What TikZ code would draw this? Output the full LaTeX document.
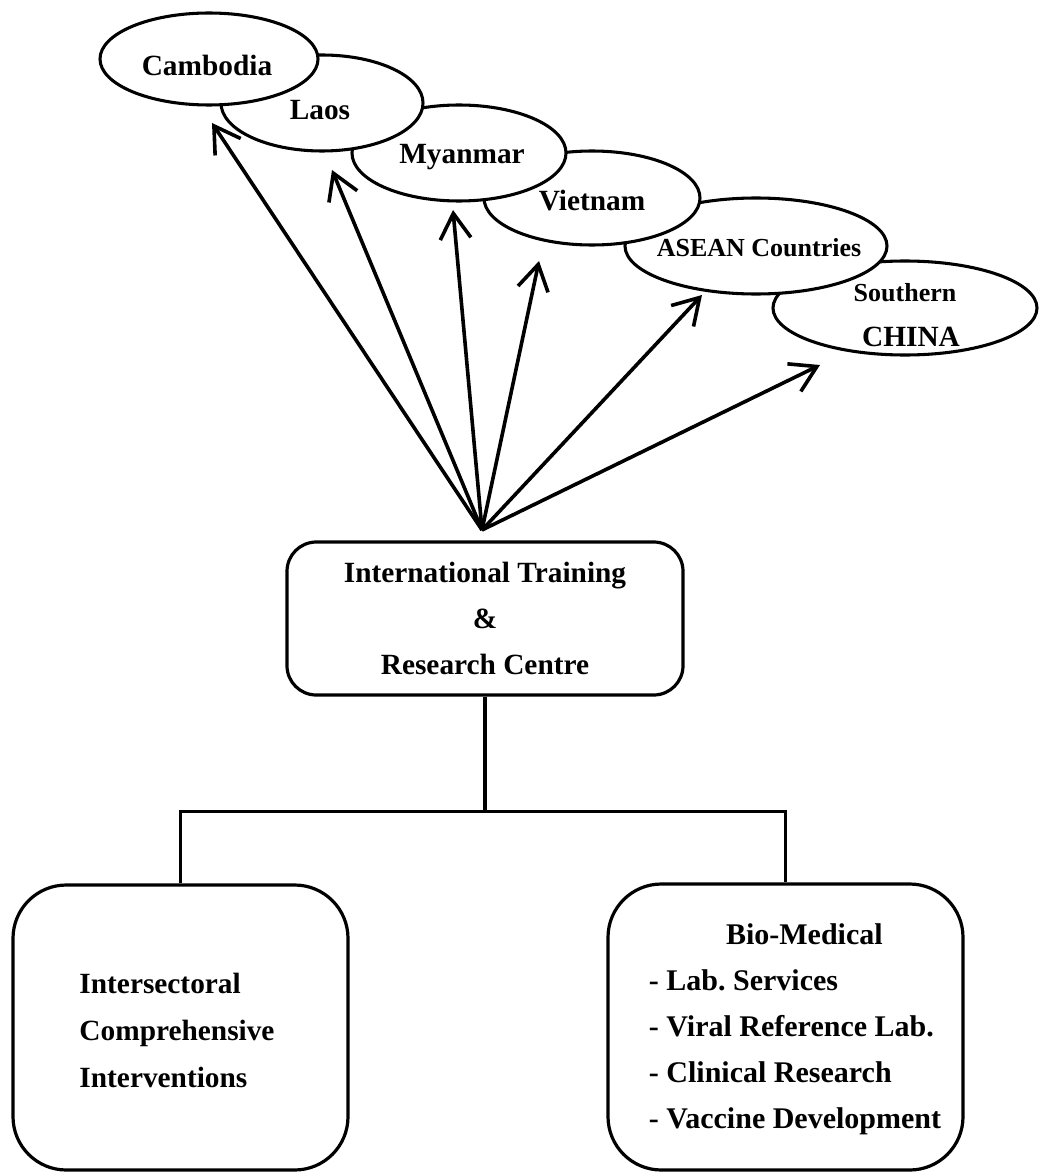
\documentclass[tikz,border=0pt]{standalone}
\usepackage{fontspec}
\setmainfont{Liberation Serif}
\usetikzlibrary{arrows.meta,shapes.geometric}
\frenchspacing
\begin{document}
\begin{tikzpicture}[x=0.75pt,y=-0.75pt,
  ctry/.style={ellipse,draw,line width=2.3pt,fill=white,inner sep=0pt},
  lbl/.style={font=\fontsize{22}{26}\selectfont\bfseries,inner sep=0pt},
  slbl/.style={font=\fontsize{19.5}{24}\selectfont\bfseries,inner sep=0pt},
  arr/.style={line width=2.7pt,-{Straight Barb[length=19pt,width=23pt]}},
  box/.style={draw,line width=2.4pt,inner sep=0pt},
  conn/.style={line width=2.4pt}]
\useasboundingbox (0,0) rectangle (1040,1173);

% country ellipses, back to front
\node[ctry,minimum width=198pt,minimum height=70.5pt] (china) at (905,308) {};
\node[slbl] (chinaA) at (905,293) {Southern};
\node[lbl] (chinaB) at (911,337) {CHINA};
\node[ctry,minimum width=196.5pt,minimum height=72pt] (asean) at (756,246) {};
\node[slbl] (aseanT) at (759,248) {ASEAN Countries};
\node[ctry,minimum width=162pt,minimum height=70.5pt] (viet) at (592,198) {};
\node[lbl] (vietT) at (592,201) {Vietnam};
\node[ctry,minimum width=160.5pt,minimum height=72pt] (myan) at (459,153) {};
\node[lbl] (myanT) at (462,157) {Myanmar};
\node[ctry,minimum width=151.5pt,minimum height=72pt] (laos) at (322,103) {};
\node[lbl] (laosT) at (320,110) {Laos};
\node[ctry,minimum width=163.5pt,minimum height=69pt] (cam) at (209,59) {};
\node[lbl] (camT) at (207,65) {Cambodia};

% central box
\node[box,rounded corners=22pt,minimum width=297pt,minimum height=114.75pt,
      font=\fontsize{22}{34.5}\selectfont\bfseries,align=center] (itrc) at (485,618.5)
  {International Training\\\&\\Research Centre};

% arrows
\coordinate (hub) at (482,530);
\coordinate (tcam) at (212,123);
\coordinate (tlaos) at (332,170);
\coordinate (tmyan) at (453,210);
\coordinate (tviet) at (539,261);
\coordinate (tasean) at (702,295);
\coordinate (tchina) at (820,365);
\foreach \t in {tcam,tlaos,tmyan,tviet,tasean,tchina}
  \draw[arr] (hub) -- (\t);

% lower boxes
\node[box,rounded corners=40pt,minimum width=251.25pt,minimum height=213.75pt] (lbox) at (180.5,1027.5) {};
\node[lbl,align=left,font=\fontsize{22}{35.25}\selectfont\bfseries] (ltext) at (177,1030)
  {Intersectoral\\Comprehensive\\Interventions};
\node[box,rounded corners=40pt,minimum width=266.25pt,minimum height=214.5pt] (rbox) at (785.5,1027) {};
\node[lbl,font=\fontsize{22.5}{34.5}\selectfont\bfseries] (rtext) at (795,1027)
  {\begin{tabular}{@{}l@{}}
   \multicolumn{1}{@{}c@{}}{\hspace*{14pt}Bio-Medical}\\
   - Lab. Services\\
   - Viral Reference Lab.\\
   - Clinical Research\\
   - Vaccine Development
   \end{tabular}};

% tree connectors
\path (itrc.south) ++(0,115) coordinate (bar);
\draw[conn] (itrc.south) -- (bar);
\draw[conn] (lbox.north) |- (bar) -| (rbox.north);
\end{tikzpicture}
\end{document}
